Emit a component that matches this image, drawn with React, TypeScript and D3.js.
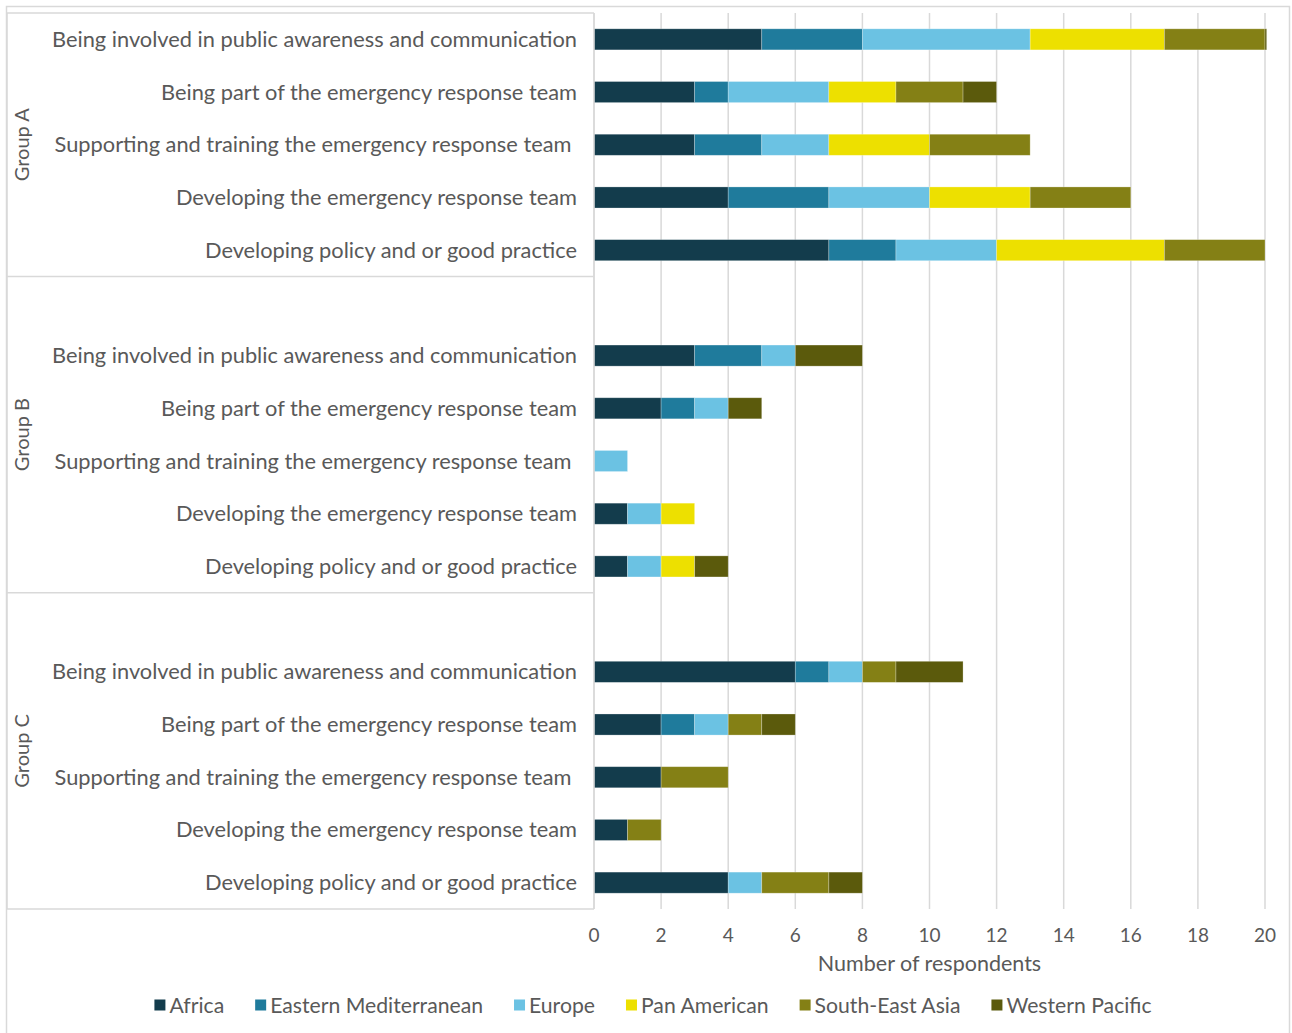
import React, { useEffect, useRef } from "react";
import * as d3 from "d3";

const groups = ["Group A", "Group B", "Group C"];
const categories = [
  "Being involved in public awareness and communication",
  "Being part of the emergency response team",
  "Supporting and training the emergency response team ",
  "Developing the emergency response team",
  "Developing policy and or good practice",
];
const seriesNames = ["Africa", "Eastern Mediterranean", "Europe", "Pan American", "South-East Asia", "Western Pacific"];
const seriesColors = ["#133C4C", "#1F7B9C", "#6BC2E3", "#EDE000", "#848015", "#5B5A0C"];

// values per group in category order (A then B then C)
const africa = [5, 3, 3, 4, 7, 3, 2, 0, 1, 1, 6, 2, 2, 1, 4];
const easternMed = [3, 1, 2, 3, 2, 2, 1, 0, 0, 0, 1, 1, 0, 0, 0];
const europe = [5, 3, 2, 3, 3, 1, 1, 1, 1, 1, 1, 1, 0, 0, 1];
const panAmerican = [4, 2, 3, 3, 5, 0, 0, 0, 1, 1, 0, 0, 0, 0, 0];
const southEastAsia = [3, 2, 3, 3, 3, 0, 0, 0, 0, 0, 1, 1, 2, 1, 2];
const westernPacific = [0.05, 1, 0, 0, 0, 2, 1, 0, 0, 1, 2, 1, 0, 0, 1];

const xTicks = [0, 2, 4, 6, 8, 10, 12, 14, 16, 18, 20];
const xTitle = "Number of respondents";

export default function App() {
  const ref = useRef<SVGSVGElement>(null);

  useEffect(() => {
    const svg = d3.select(ref.current);
    svg.selectAll("*").remove();
    const font = "Lato, 'Open Sans', sans-serif";
    const weight = 400;
    const textColor = "#595959";
    const lineColor = "#D9D9D9";

    // chart border
    svg.append("rect").attr("x", 6.5).attr("y", 6.5).attr("width", 1283).attr("height", 1040)
      .attr("fill", "white").attr("stroke", lineColor).attr("stroke-width", 1.5);

    const left = 594, right = 1265, top = 13, bottom = 909;
    const x = d3.scaleLinear().domain([0, 20]).range([left, right]);

    type Row = { key: string; g: number; c: number; idx: number };
    const slots: string[] = [];
    const rows: Row[] = [];
    groups.forEach((g, gi) => {
      if (gi > 0) slots.push(`blank-${gi}`);
      categories.forEach((c, ci) => {
        const key = `${gi}-${ci}`;
        slots.push(key);
        rows.push({ key, g: gi, c: ci, idx: gi * categories.length + ci });
      });
    });
    const y = d3.scaleBand<string>().domain(slots).range([top, bottom]).paddingInner(0.6).paddingOuter(0.3);
    const step = y.step();

    // gridlines
    svg.append("g").selectAll("line").data(xTicks).join("line")
      .attr("x1", (d) => x(d)).attr("x2", (d) => x(d))
      .attr("y1", top).attr("y2", bottom)
      .attr("stroke", lineColor).attr("stroke-width", 1.5);

    // bars
    const allSeries = [africa, easternMed, europe, panAmerican, southEastAsia, westernPacific];
    const table = rows.map((r) => {
      const o: any = { key: r.key };
      seriesNames.forEach((s, si) => (o[s] = allSeries[si][r.idx]));
      return o;
    });
    const stacked = d3.stack<any>().keys(seriesNames)(table);
    const barG = svg.append("g");
    stacked.forEach((layer, si) => {
      barG.append("g").attr("fill", seriesColors[si])
        .selectAll("rect").data(layer.filter((d) => d[1] - d[0] > 0)).join("rect")
        .attr("x", (d) => x(d[0]))
        .attr("width", (d) => x(d[1]) - x(d[0]))
        .attr("y", (d) => y(d.data.key)!)
        .attr("height", y.bandwidth())
        .attr("stroke", "rgba(255,255,255,0.35)").attr("stroke-width", 0.75);
    });

    // category box lines
    const boxG = svg.append("g").attr("stroke", lineColor).attr("stroke-width", 1.5).attr("fill", "none");
    const bounds = [top, ...[1, 2].map((gi) => y(`blank-${gi}`)! - step * 0.3), bottom];
    bounds.forEach((b) => {
      boxG.append("line").attr("x1", 7).attr("x2", left).attr("y1", b).attr("y2", b);
    });
    boxG.append("line").attr("x1", left).attr("x2", left).attr("y1", top).attr("y2", bottom);
    boxG.append("line").attr("x1", 7).attr("x2", 7).attr("y1", top).attr("y2", bottom);

    // category labels
    svg.append("g").selectAll("text").data(rows).join("text")
      .attr("x", 577).attr("y", (d) => y(d.key)! + y.bandwidth() / 2 - 1)
      .attr("text-anchor", "end").attr("dominant-baseline", "central")
      .attr("font-family", font).attr("font-weight", weight).attr("font-size", 21.8).attr("fill", textColor)
      .style("white-space", "pre")
      .text((d) => categories[d.c]);

    // group labels
    groups.forEach((g, gi) => {
      const cy = (bounds[gi] + bounds[gi + 1]) / 2;
      svg.append("text")
        .attr("transform", `translate(21,${cy}) rotate(-90)`)
        .attr("text-anchor", "middle").attr("dominant-baseline", "central")
        .attr("font-family", font).attr("font-weight", weight).attr("font-size", 20).attr("fill", textColor)
        .text(g);
    });

    // x tick labels
    svg.append("g").selectAll("text").data(xTicks).join("text")
      .attr("x", (d) => x(d)).attr("y", 934)
      .attr("text-anchor", "middle").attr("dominant-baseline", "central")
      .attr("font-family", font).attr("font-weight", weight).attr("font-size", 19).attr("fill", textColor)
      .text((d) => String(d));

    svg.append("text").attr("x", (left + right) / 2).attr("y", 963)
      .attr("text-anchor", "middle").attr("dominant-baseline", "central")
      .attr("font-family", font).attr("font-weight", weight).attr("font-size", 21.5).attr("fill", textColor)
      .text(xTitle);

    // legend
    const legG = svg.append("g");
    const sq = 11, gapText = 4, gapItem = 31;
    let cursor = 0;
    seriesNames.forEach((s, i) => {
      const g = legG.append("g");
      g.append("rect").attr("x", 0).attr("y", -sq / 2).attr("width", sq).attr("height", sq).attr("fill", seriesColors[i]);
      const t = g.append("text").attr("x", sq + gapText).attr("y", 0)
        .attr("dominant-baseline", "central")
        .attr("font-family", font).attr("font-weight", weight).attr("font-size", 21.2).attr("fill", textColor).text(s);
      const w = (t.node() as SVGTextElement).getComputedTextLength();
      g.attr("transform", `translate(${cursor},0)`);
      cursor += sq + gapText + w + gapItem;
    });
    const total = cursor - gapItem;
    legG.attr("transform", `translate(${653 - total / 2},1005)`);
  }, []);

  return (
    <svg ref={ref} width={1292} height={1033} style={{ position: "absolute", left: 0, top: 0, background: "white" }} />
  );
}
